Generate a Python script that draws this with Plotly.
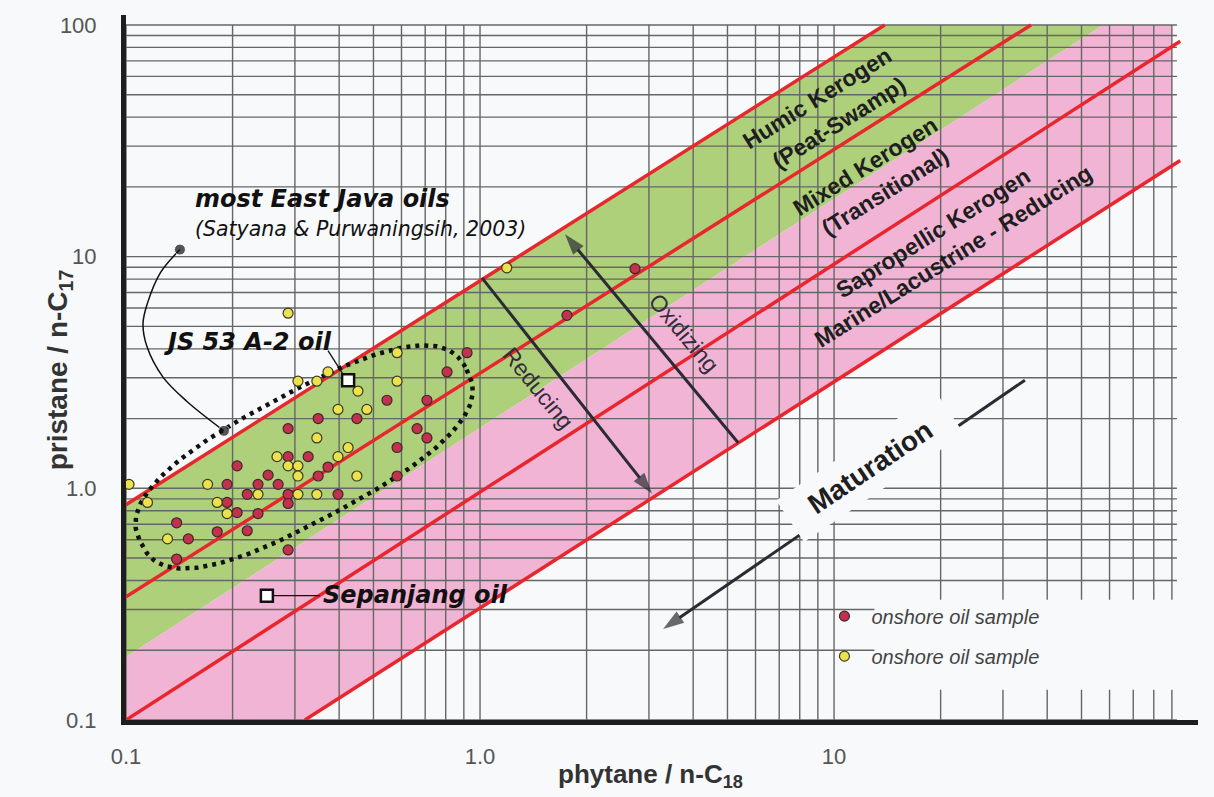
import numpy as np
import plotly.graph_objects as go

# ---------------- data ----------------
red_x = [0.139, 0.150, 0.139, 0.181, 0.193, 0.193, 0.206, 0.206, 0.220, 0.220,
         0.236, 0.236, 0.252, 0.269, 0.287, 0.287, 0.287, 0.287, 0.287, 0.327,
         0.349, 0.349, 0.372, 0.397, 0.449, 0.546, 0.583, 0.583, 0.664, 0.708,
         0.708, 0.807, 0.919, 1.76, 2.74]
red_y = [0.71, 0.605, 0.495, 0.649, 1.04, 0.869, 1.25, 0.786, 0.942, 0.656,
         1.04, 0.778, 1.14, 1.04, 1.81, 1.37, 0.942, 0.86, 0.542, 1.37,
         2.0, 1.13, 1.235, 0.942, 2.0, 2.4, 1.5, 1.13, 1.81, 2.4,
         1.65, 3.18, 3.85, 5.58, 8.87]
yellow_x = [0.287, 0.102, 0.115, 0.131, 0.170, 0.181, 0.193, 0.236, 0.267, 0.287,
            0.306, 0.306, 0.306, 0.346, 0.346, 0.306, 0.346, 0.372, 0.397, 0.397,
            0.424, 0.449, 0.452, 0.479, 0.583, 0.583, 1.19]
yellow_y = [5.70, 1.04, 0.869, 0.605, 1.04, 0.869, 0.778, 0.942, 1.37, 1.25,
            1.25, 1.13, 0.942, 0.942, 1.65, 2.90, 2.90, 3.18, 2.19, 1.37,
            1.50, 1.13, 2.63, 2.19, 3.85, 2.90, 8.95]
js53_x, js53_y = [0.424], [2.93]
sepanjang_x, sepanjang_y = [0.25], [0.344]

# red source-type lines: [x0, x1], [y0, y1]
red_lines_x = [[0.1, 13.9], [0.1, 36.0], [0.1, 95.0], [0.32, 95.0]]
red_lines_y = [[0.85, 100.0], [0.34, 100.0], [0.1, 85.0], [0.1, 26.0]]
# green / pink boundary
gp_x = [0.1, 57.5]
gp_y = [0.187, 100.0]
band_xmax = 90.0

# process arrows: [tail, head]
reducing_x, reducing_y = [1.013, 3.06], [8.1, 0.951]
oxidizing_x, oxidizing_y = [5.36, 1.738], [1.572, 12.5]
maturation_x, maturation_y = [34.6, 3.29], [2.93, 0.247]

grid_vals = [k * 10.0 ** d for d in (-1, 0, 1) for k in range(1, 10)]
grid_vals_y = grid_vals + [100.0]

x_tick_vals = [0.1, 1.0, 10.0]
x_tick_text = ["0.1", "1.0", "10"]
y_tick_vals = [0.1, 1.0, 10.0, 100.0]
y_tick_text = ["0.1", "1.0", "10", "100"]

# ---------------- helpers ----------------
L = np.log10


def y_on(lx, ly, x):
    """log-log interpolation along a straight line"""
    a0, a1 = L(lx[0]), L(lx[1])
    b0, b1 = L(ly[0]), L(ly[1])
    return 10 ** (b0 + (b1 - b0) * (L(x) - a0) / (a1 - a0))


BG = "#f8f9fb"
GREEN = "#aed07a"
PINK = "#f2b4d5"
RED = "#e8262d"
GRID = "#666666"
DARK = "#2b2b33"

fig = go.Figure()

# bands
l1x, l1y = red_lines_x[0], red_lines_y[0]
l4x, l4y = red_lines_x[3], red_lines_y[3]
green_x = [l1x[0], l1x[1], gp_x[1], gp_x[0], l1x[0]]
green_y = [l1y[0], l1y[1], gp_y[1], gp_y[0], l1y[0]]
fig.add_trace(go.Scatter(x=green_x, y=green_y, fill="toself", fillcolor=GREEN,
                         mode="lines", line=dict(width=0), hoverinfo="skip",
                         showlegend=False))
pink_x = [gp_x[0], gp_x[1], band_xmax, band_xmax, l4x[0], 0.1, gp_x[0]]
pink_y = [gp_y[0], gp_y[1], 100.0, y_on(l4x, l4y, band_xmax), l4y[0], 0.1, gp_y[0]]
fig.add_trace(go.Scatter(x=pink_x, y=pink_y, fill="toself", fillcolor=PINK,
                         mode="lines", line=dict(width=0), hoverinfo="skip",
                         showlegend=False))

# grid
gx, gy = [], []
for v in grid_vals:
    gx += [v, v, None]
    gy += [0.1, 100.0, None]
for v in grid_vals_y:
    gx += [0.1, 93.0, None]
    gy += [v, v, None]
fig.add_trace(go.Scatter(x=gx, y=gy, mode="lines", line=dict(color=GRID, width=1.4),
                         hoverinfo="skip", showlegend=False))

# white mask behind legend
fig.add_trace(go.Scatter(x=[13, 96, 96, 13, 13], y=[0.135, 0.135, 0.33, 0.33, 0.135],
                         fill="toself", fillcolor=BG, mode="lines", line=dict(width=0),
                         hoverinfo="skip", showlegend=False))

# red lines
for lx, ly in zip(red_lines_x, red_lines_y):
    fig.add_trace(go.Scatter(x=lx, y=ly, mode="lines", line=dict(color=RED, width=3.5),
                             hoverinfo="skip", showlegend=False))

# process arrows (line + arrowhead marker oriented along the segment)
for ax_, ay_ in ((reducing_x, reducing_y), (oxidizing_x, oxidizing_y), (maturation_x, maturation_y)):
    fig.add_trace(go.Scatter(x=ax_, y=ay_, mode="lines+markers",
                             line=dict(color=DARK, width=3),
                             marker=dict(symbol="arrow", size=[0, 22], color=DARK,
                                         angleref="previous", line=dict(width=0)),
                             hoverinfo="skip", showlegend=False))

# dotted ellipse around the East Java oils (log space)
ell_c = (0.3185, 1.366)
ell_a = (0.459, 0.377)
ell_b = (0.0834, -0.2428)
t = np.linspace(0, 2 * np.pi, 240)
c, s = np.cos(t), np.sin(t)
n = 2.6
cc = np.sign(c) * np.abs(c) ** (2 / n)
ss = np.sign(s) * np.abs(s) ** (2 / n)
ex = 10 ** (L(ell_c[0]) + ell_a[0] * cc + ell_b[0] * ss)
ey = 10 ** (L(ell_c[1]) + ell_a[1] * cc + ell_b[1] * ss)
fig.add_trace(go.Scatter(x=ex, y=ey, mode="lines",
                         line=dict(color="#111", width=4.5, dash="4px,5px"),
                         hoverinfo="skip", showlegend=False))

# callout curve
cur_x = [0.142, 0.125, 0.115, 0.1117, 0.1146, 0.1272, 0.1487, 0.1891]
cur_y = [10.73, 8.51, 6.30, 5.15, 4.09, 3.02, 2.37, 1.77]
fig.add_trace(go.Scatter(x=cur_x, y=cur_y, mode="lines+markers",
                         line=dict(color="#111", width=1.5, shape="spline"),
                         marker=dict(size=[11, 0, 0, 0, 0, 0, 0, 11], color="#111"),
                         hoverinfo="skip", showlegend=False))

# leader lines
fig.add_trace(go.Scatter(x=[0.372, 0.41], y=[3.93, 3.11], mode="lines",
                         line=dict(color="#111", width=1.3), hoverinfo="skip", showlegend=False))
fig.add_trace(go.Scatter(x=[sepanjang_x[0], 0.353], y=[sepanjang_y[0], sepanjang_y[0]], mode="lines",
                         line=dict(color="#111", width=1.3), hoverinfo="skip", showlegend=False))

# samples
fig.add_trace(go.Scatter(x=red_x, y=red_y, mode="markers", name="onshore oil sample",
                         legendgroup="a",
                         marker=dict(size=10, color="#c4314f", line=dict(color="#3b2a2a", width=1.2)),
                         cliponaxis=False))
fig.add_trace(go.Scatter(x=yellow_x, y=yellow_y, mode="markers", name="onshore oil sample",
                         legendgroup="b",
                         marker=dict(size=10, color="#ece24c", line=dict(color="#3b3a2a", width=1.2)),
                         cliponaxis=False))
fig.add_trace(go.Scatter(x=js53_x + sepanjang_x, y=js53_y + sepanjang_y, mode="markers",
                         marker=dict(symbol="square", size=12, color="white",
                                     line=dict(color="#111", width=2.5)),
                         hoverinfo="skip", showlegend=False))

# ---------------- annotations ----------------
ann = []


def label(text, x, y, size, angle=0, family="Liberation Sans", color="#1e1e1e",
          xanchor="center", bg=None, pad=1):
    d = dict(x=L(x), y=L(y), xref="x", yref="y", text=text, showarrow=False,
             textangle=angle, xanchor=xanchor, yanchor="middle",
             font=dict(family=family, size=size, color=color), borderpad=pad)
    if bg:
        d["bgcolor"] = bg
    ann.append(d)


label("Reducing", 1.46, 2.72, 23, angle=51, color="#352d3c")
label("Oxidizing", 3.77, 4.70, 23, angle=50, color="#352d3c")
label("<b>Humic Kerogen</b>", 8.95, 48.5, 23, angle=-32)
label("<b>(Peat-Swamp)</b>", 10.3, 37.7, 23, angle=-32)
label("<b>Mixed Kerogen</b>", 12.3, 24.5, 23, angle=-32)
label("<b>(Transitional)</b>", 13.9, 19.0, 23, angle=-32)
label("<b>Sapropellic Kerogen</b>", 19.0, 12.7, 23, angle=-32)
label("<b>Marine/Lacustrine - Reducing</b>", 21.7, 10.1, 23, angle=-32)
label("<b>\u00a0\u00a0Maturation\u00a0\u00a0</b>", 12.6, 1.235, 28, angle=-34, bg=BG, pad=9)

CALL = "DejaVu Sans"
label("<b><i>most East Java oils</i></b>", 0.155, 17.8, 24, family=CALL, xanchor="left", color="#111")
label("<i>(Satyana &amp; Purwaningsih, 2003)</i>", 0.155, 13.2, 20.5, family=CALL, xanchor="left", color="#111")
label("<b><i>JS 53 A-2 oil</i></b>", 0.126, 4.3, 24, family=CALL, xanchor="left", color="#111")
label("<b><i>Sepanjang oil</i></b>", 0.356, 0.346, 24, family=CALL, xanchor="left", color="#111")

# axis titles (paper refs)
ann.append(dict(x=-0.08, y=0.497, xref="paper", yref="paper", showarrow=False,
                text="<b>pristane / n-C<sub>17</sub></b>", textangle=-90,
                font=dict(family="Liberation Sans", size=28, color="#333")))
ann.append(dict(x=0.489, y=-0.105, xref="paper", yref="paper", showarrow=False,
                text="<b>phytane / n-C<sub>18</sub></b>",
                font=dict(family="Liberation Sans", size=26, color="#333")))

tickfont = dict(family="Liberation Sans", size=22, color="#555")
fig.update_layout(
    width=1214, height=797,
    margin=dict(l=126, r=16, t=15, b=77),
    paper_bgcolor=BG, plot_bgcolor=BG,
    annotations=ann,
    legend=dict(x=0.645, y=0.175, xanchor="left", yanchor="top",
                bgcolor="rgba(0,0,0,0)", itemwidth=44, tracegroupgap=11,
                font=dict(family="Liberation Sans", size=20, color="#444", style="italic")),
    xaxis=dict(type="log", range=[-1, 2.028], showgrid=False, zeroline=False,
               showline=True, linewidth=5, linecolor="#1e1e1e", ticks="",
               tickvals=x_tick_vals, ticktext=x_tick_text, tickfont=tickfont,
               ticklabelstandoff=13),
    yaxis=dict(type="log", range=[-1, 2.043], showgrid=False, zeroline=False,
               showline=True, linewidth=5, linecolor="#1e1e1e", ticks="",
               tickvals=y_tick_vals, ticktext=y_tick_text, tickfont=tickfont,
               ticklabelstandoff=20),
)

fig.write_html("out.html", config={"displayModeBar": False},
               post_script="document.body.style.margin='0';document.body.style.overflow='hidden';")
